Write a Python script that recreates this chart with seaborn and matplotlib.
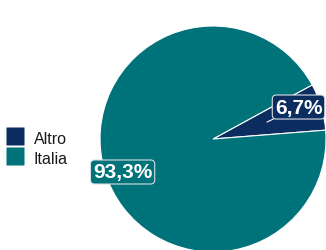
import matplotlib
matplotlib.use("Agg")
import matplotlib.pyplot as plt
import seaborn as sns
from matplotlib.lines import Line2D

sns.set_theme(style="white")
plt.rcParams["font.family"] = ["Liberation Sans", "DejaVu Sans"]

categories = ["Altro", "Italia"]
shares = [6.7, 93.3]
labels = ["6,7%", "93,3%"]
colors = ["#0c2d5f", "#00737a"]

fig = plt.figure(figsize=(3.26, 2.51), dpi=100)
W, H = 326, 251
cx, cy, r = 213, 140, 113
ax = fig.add_axes([(cx - r) / W, (H - cy - r) / H, 2 * r / W, 2 * r / H])

wedges, _ = ax.pie(shares, colors=colors, startangle=4.5, counterclock=True,
                   wedgeprops=dict(edgecolor="white", linewidth=0.8))
ax.set_xlim(-1, 1)
ax.set_ylim(-1, 1)
ax.set_aspect("equal")
ax.axis("off")

box_ec = "#d8dde3"
# 6,7% label with short leader line
ax.annotate(labels[0], xy=(0.478, 0.15), xytext=(0.757, 0.283),
            ha="center", va="center", color="white", fontsize=15, fontweight="bold",
            bbox=dict(boxstyle="round,pad=0.12,rounding_size=0.2", fc=colors[0], ec=box_ec, lw=0.8),
            arrowprops=dict(arrowstyle="-", color="white", lw=0.8, shrinkA=0, shrinkB=0))
# 93,3% label
ax.text(-0.80, -0.292, labels[1], ha="center", va="center", color="white",
        fontsize=15, fontweight="bold",
        bbox=dict(boxstyle="round,pad=0.12,rounding_size=0.2", fc=colors[1], ec=box_ec, lw=0.8))

handles = [Line2D([], [], linestyle="none", marker="s", markersize=13.5,
                  markerfacecolor=c, markeredgecolor="none") for c in colors]
leg = fig.legend(handles, categories, loc="center left", bbox_to_anchor=(5 / W, 0.408),
                 frameon=False, fontsize=11.5, handlelength=1.3, handleheight=1.3,
                 handletextpad=0.5, labelspacing=0.2, borderaxespad=0, borderpad=0)
for t in leg.get_texts():
    t.set_color("#1a1a1a")

fig.savefig("out.png", dpi=100)
